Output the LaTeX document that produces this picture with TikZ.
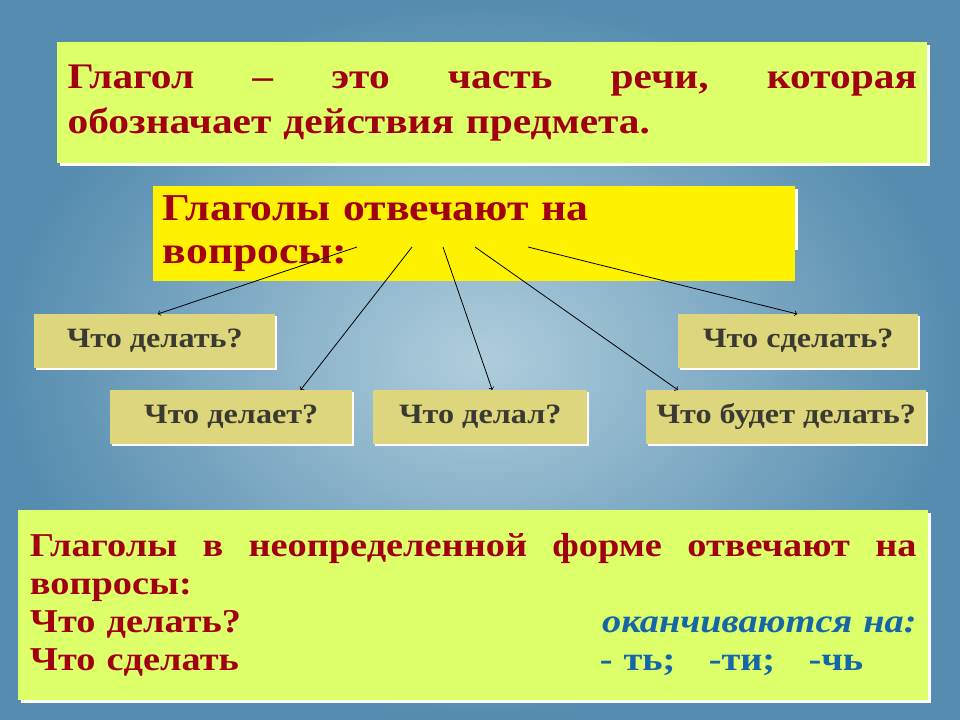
\documentclass[tikz,border=0pt]{standalone}
\usepackage{fontspec}
\setmainfont[FakeStretch=1.15]{Liberation Serif}
\usetikzlibrary{calc}
\definecolor{defred}{HTML}{A00010}
\definecolor{boxgreen}{HTML}{DDFF6A}
\definecolor{khaki}{HTML}{DDD67C}
\definecolor{qgray}{HTML}{3A3A32}
\definecolor{endblue}{HTML}{1466A8}
\tikzset{
  qbox/.style={fill=khaki, minimum height=40pt, inner sep=0pt, anchor=north west,
    font=\bfseries\fontsize{21}{24}\selectfont, text=qgray},
  link/.style={->, line width=0.6pt, black}
}
\begin{document}
\begin{tikzpicture}[x=0.75pt, y=-0.75pt]
\shade[inner color={rgb,255:red,175;green,205;blue,220}, outer color={rgb,255:red,85;green,140;blue,175}]
  (0,0) rectangle (960,720);
\useasboundingbox (0,0) rectangle (960,720);

% definition
\fill[white] (60,45) rectangle (930,166);
\node[fill=boxgreen, minimum width=652.5pt, minimum height=90.75pt, anchor=north west,
  text width=637pt, align=left, text=defred, font=\bfseries\fontsize{27}{34}\selectfont]
  (def) at (57,42)
  {\hbox to \linewidth{Глагол\hfill–\hfill это\hfill часть\hfill речи,\hfill которая}
   обозначает действия предмета.};

% questions header
\fill[white] (156,189) rectangle (798,250);
\node[fill=yellow, minimum width=481.5pt, minimum height=45.75pt, anchor=north west,
  inner sep=7pt, text=defred, font=\bfseries\fontsize{28.5}{32}\selectfont, text width=467pt]
  (head) at (153,186) {Глаголы отвечают на вопросы:};

% question boxes
\foreach \nm/\x/\y/\w/\t in {q1/34/314/241/Что делать?, q2/678/314/240/Что сделать?,
  q3/110/390/242/Что делает?, q4/373/390/214/Что делал?, q5/646/390/280/Что будет делать?} {
  \fill[white] (\x+2,\y+2) rectangle (\x+\w+2,\y+56);
  \node[qbox, minimum width=\w*0.75pt] (\nm) at (\x,\y) {\t};
}

% connectors
\coordinate (h1) at (357,247);
\coordinate (h2) at (412,247);
\coordinate (h3) at (443,247);
\coordinate (h4) at (475,247);
\coordinate (h5) at (528,247);
\draw[link] (h1) -- ($(q1.north)+(3,0)$);
\draw[link] (h2) -- ($(q3.north east)+(-52,0)$);
\draw[link] (h3) -- ($(q4.north)+(12,0)$);
\draw[link] (h4) -- ($(q5.north west)+(32,0)$);
\draw[link] (h5) -- ($(q2.north)+(-1,0)$);

% infinitive
\fill[white] (21,513) rectangle (931,703);
\node[fill=boxgreen, minimum width=682.5pt, minimum height=142.5pt, anchor=north west,
  text width=665pt, align=left, text=defred, font=\bfseries\fontsize{25}{28.5}\selectfont]
  (inf) at (18,510)
  {\hbox to \linewidth{Глаголы\hfill в\hfill неопределенной\hfill форме\hfill отвечают\hfill на}
   вопросы:\\
   Что делать?\hfill{\color{endblue}\itshape оканчиваются на:}\\
   Что сделать\hfill{\color{endblue}- ть;\quad -ти;\quad -чь\hspace{40pt}}};
\end{tikzpicture}
\end{document}
